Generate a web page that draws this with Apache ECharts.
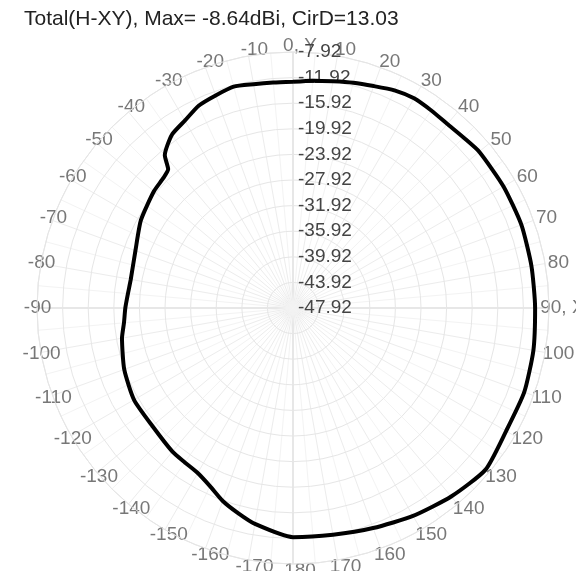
<!DOCTYPE html>
<html>
<head>
<meta charset="utf-8">
<script src="https://cdn.jsdelivr.net/npm/echarts@6/dist/echarts.min.js"></script>
<style>
  html, body { margin: 0; padding: 0; background: #fff; }
  #main { width: 576px; height: 571px; }
</style>
</head>
<body>
<div id="main"></div>
<script>
// pattern angle (deg, clockwise from Y) and gain (dBi)
const angles = [0, 5, 10, 15, 20, 25, 30, 35, 40, 45, 50, 60, 70, 80, 90, 100, 110, 120, 130, 140, 150, 160, 170, 180,
  190, 195, 200, 205, 210, 215, 220, 230, 240, 250, 260, 265, 270, 275, 280, 290, 300, 310, 315, 318, 320, 325, 330, 335, 340, 345, 350, 355, 360];
const gain = [-12.57, -12.26, -11.95, -11.49, -11.02, -10.40, -10.09, -10.25, -10.40, -10.25, -9.94, -9.94, -9.94, -10.09, -10.09, -9.78, -9.47, -9.47, -8.64, -9.47, -10.40, -11.33, -11.95, -12.11,
  -13.66, -14.74, -15.83, -17.22, -18.15, -18.46, -18.62, -19.24, -19.24, -19.86, -20.79, -21.41, -21.72, -22.03, -22.18, -21.72, -20.48, -19.55, -19.24, -18.77, -16.76, -14.90, -14.12, -13.04, -12.57, -12.11, -12.42, -12.57, -12.57];

// angle tick labels round the rim
const angleTicks = [0, 10, 20, 30, 40, 50, 60, 70, 80, 90, 100, 110, 120, 130, 140, 150, 160, 170, 180,
  190, 200, 210, 220, 230, 240, 250, 260, 270, 280, 290, 300, 310, 320, 330, 340, 350];
const angleLabels = ['0, Y', '10', '20', '30', '40', '50', '60', '70', '80', '90, X', '100', '110', '120', '130', '140', '150', '160', '170', '180',
  '-170', '-160', '-150', '-140', '-130', '-120', '-110', '-100', '-90', '-80', '-70', '-60', '-50', '-40', '-30', '-20', '-10'];

const rMin = -47.92; // centre of the plot
const ringStep = 4;  // dB per ring
const rings = 10;

const titleText = 'Total(H-XY), Max= -8.64dBi, CirD=13.03';

// darker lines on the X / Y axes
let spokeColors = ['#cfcfcf'];
for (let i = 0; i < 8; i++) spokeColors.push('#ececec');

let chart = echarts.init(document.getElementById('main'));
chart.setOption({
  animation: false,
  backgroundColor: '#fff',
  title: {
    text: titleText,
    left: 19,
    top: 4,
    textStyle: { fontFamily: 'Liberation Sans, Arial', fontSize: 21, fontWeight: 'normal', color: '#222' }
  },
  polar: {
    center: [293, 308],
    radius: 256
  },
  angleAxis: {
    type: 'value',
    min: 0,
    max: 360,
    interval: 10,
    startAngle: 90,
    clockwise: true,
    axisLine: { show: true, lineStyle: { color: '#e4e4e4', width: 1 } },
    axisTick: { show: false },
    axisLabel: { show: false },
    minorTick: { show: false, splitNumber: 2 },
    minorSplitLine: { show: true, lineStyle: { color: '#f3f3f3', width: 1 } },
    splitLine: { show: true, lineStyle: { color: spokeColors, width: 1 } }
  },
  radiusAxis: {
    type: 'value',
    min: 0,
    max: ringStep * rings,
    interval: ringStep,
    axisLine: { show: false },
    axisTick: { show: false },
    splitLine: { show: true, lineStyle: { color: '#e6e6e6', width: 1 } },
    axisLabel: {
      margin: -5,
      align: 'left',
      verticalAlign: 'middle',
      fontFamily: 'Liberation Sans, Arial',
      fontSize: 19,
      color: '#444',
      formatter: function (v) { return (v + rMin).toFixed(2); }
    },
    z: 5
  },
  series: [{
    // rim labels, centred just outside the outer ring
    type: 'scatter',
    coordinateSystem: 'polar',
    clip: false,
    symbolSize: 0,
    silent: true,
    data: angleTicks.map((a, i) => ({ value: [ringStep * rings * 1.025, a], name: angleLabels[i] })),
    label: {
      show: true,
      position: 'inside',
      offset: [7, 0],
      fontFamily: 'Liberation Sans, Arial',
      fontSize: 19,
      color: '#555',
      formatter: p => p.name
    },
    z: 3
  }, {
    type: 'line',
    coordinateSystem: 'polar',
    showSymbol: false,
    symbol: 'none',
    smooth: 0.2,
    lineStyle: { color: '#000', width: 4 },
    data: angles.map((a, i) => [gain[i] - rMin, a]),
    z: 10
  }]
});
</script>
</body>
</html>
